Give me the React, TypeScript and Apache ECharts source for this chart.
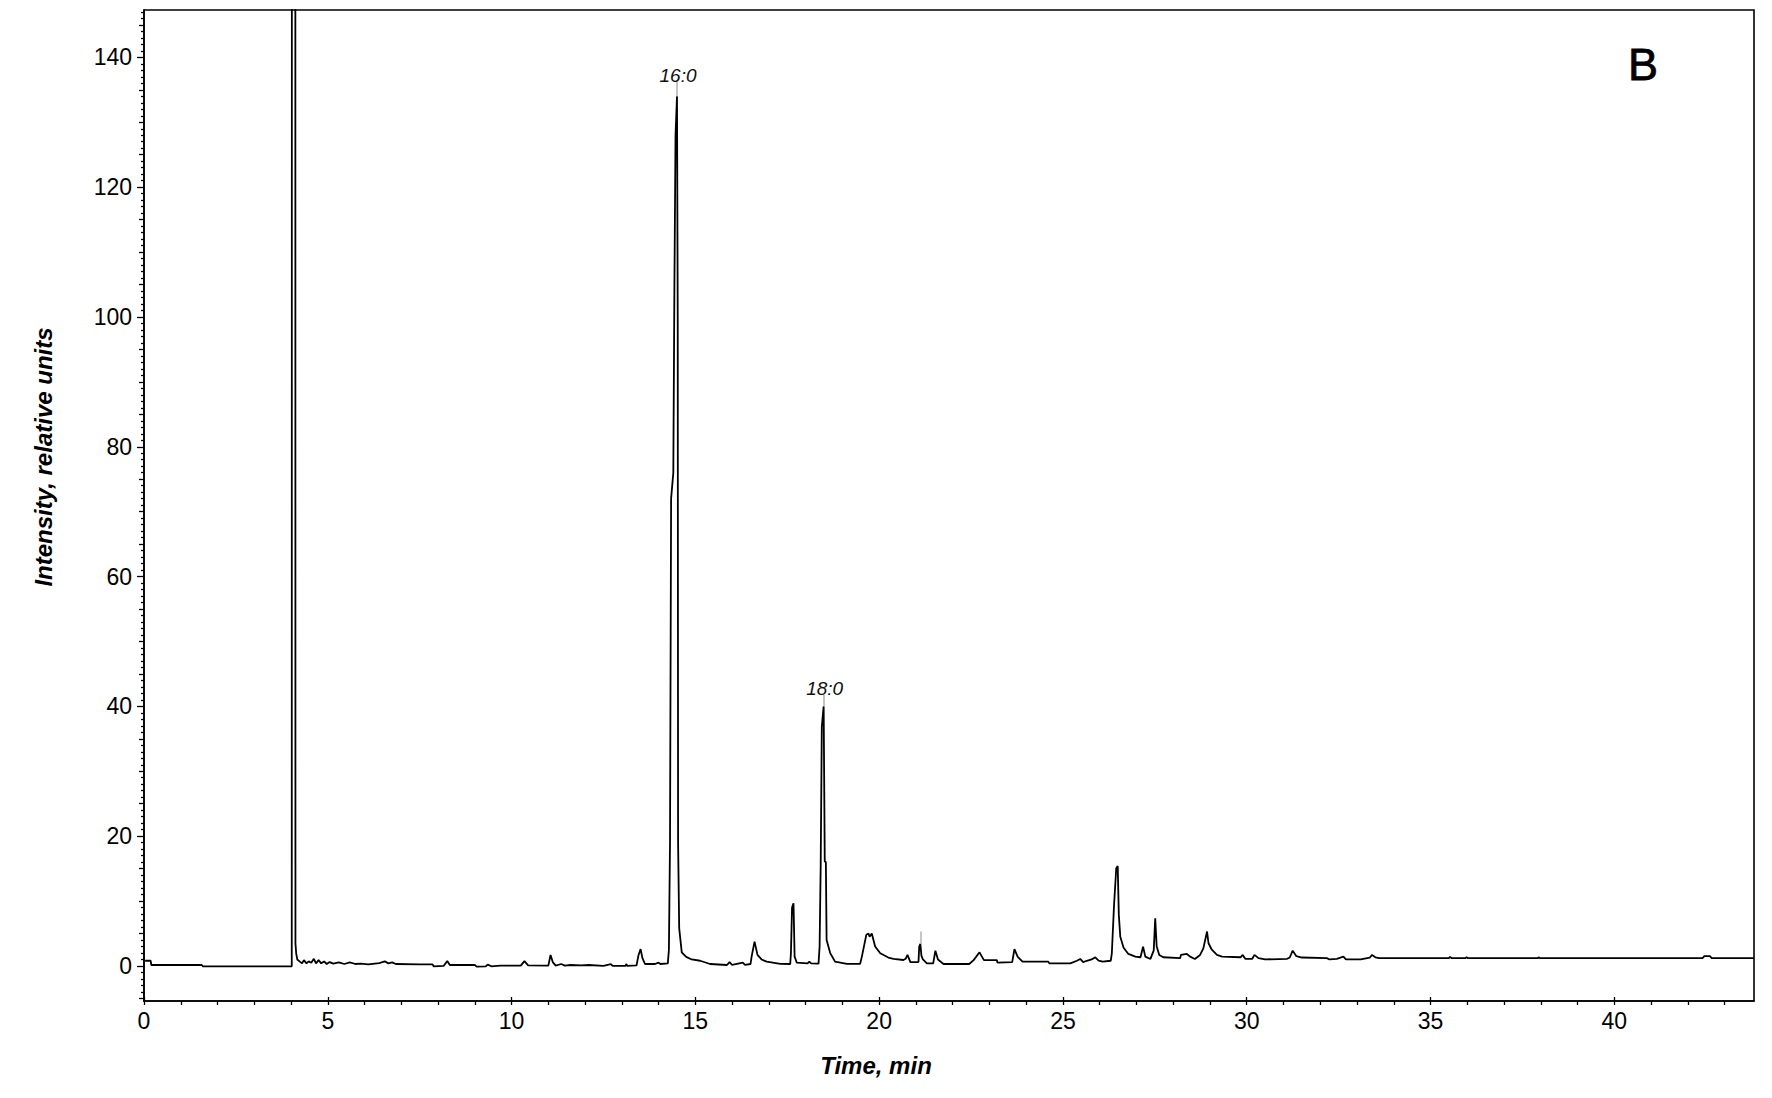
import React, { useEffect, useRef } from "react";
import * as echarts from "echarts";

// Retention time (min)
const times = [
  0.03, 0.18, 0.2, 1.57, 1.6, 4.02, 4.03, 4.11, 4.12, 4.14, 4.17, 4.24, 4.3, 4.35, 4.42, 4.48, 4.55, 4.62, 4.68, 4.75,
  4.82, 4.9, 4.97, 5.05, 5.15, 5.3, 5.45, 5.6, 5.75, 5.9, 6.1, 6.4, 6.55, 6.65, 6.75, 6.85, 7.5, 7.85, 7.88, 8.15,
  8.25, 8.32, 9.0, 9.05, 9.3, 9.35, 9.45, 9.7, 10.25, 10.35, 10.45, 11.0, 11.06, 11.12, 11.2, 11.35, 11.45, 11.6, 11.9, 12.1,
  12.5, 12.7, 12.75, 13.1, 13.12, 13.15, 13.4, 13.45, 13.51, 13.56, 13.63, 13.9, 14.0, 14.05, 14.25, 14.28, 14.31, 14.34, 14.4, 14.43,
  14.46, 14.5, 14.52, 14.53, 14.56, 14.63, 14.75, 14.9, 15.13, 15.4, 15.86, 15.93, 16.0, 16.29, 16.35, 16.5, 16.53, 16.61, 16.69, 16.8,
  16.94, 17.31, 17.58, 17.6, 17.63, 17.67, 17.7, 17.76, 18.05, 18.1, 18.15, 18.35, 18.38, 18.41, 18.44, 18.49, 18.52, 18.55, 18.57, 18.67,
  18.8, 19.12, 19.48, 19.53, 19.65, 19.71, 19.74, 19.8, 19.89, 20.03, 20.25, 20.39, 20.66, 20.72, 20.77, 20.85, 21.07, 21.09, 21.12, 21.15,
  21.19, 21.3, 21.47, 21.53, 21.6, 21.75, 22.45, 22.57, 22.73, 22.85, 23.2, 23.22, 23.62, 23.68, 23.77, 23.9, 24.6, 24.63, 25.2, 25.38,
  25.47, 25.55, 25.65, 25.78, 25.88, 25.97, 26.08, 26.3, 26.33, 26.39, 26.45, 26.49, 26.52, 26.56, 26.65, 26.78, 26.97, 27.11, 27.18, 27.24,
  27.38, 27.47, 27.51, 27.55, 27.62, 27.73, 28.19, 28.21, 28.37, 28.46, 28.59, 28.73, 28.82, 28.92, 28.96, 29.05, 29.19, 29.33, 29.83, 29.89,
  29.96, 30.15, 30.21, 30.32, 30.5, 31.1, 31.17, 31.25, 31.35, 31.5, 32.18, 32.25, 32.45, 32.63, 32.7, 33.1, 33.35, 33.41, 33.5, 33.6,
  35.5, 35.53, 35.58, 35.95, 35.98, 36.02, 37.92, 37.94, 37.97, 42.4, 42.45, 42.6, 42.65, 43.8,
];

// Detector response (relative units); the solvent front at ~4 min runs off scale
const intensity = [
  0.8, 0.8, 0.15, 0.15, -0.05, -0.05, 600, 600, 3.5, 1.95, 1.0, 0.67, 0.4, 0.9, 0.4, 0.7, 0.5, 1.1, 0.4, 0.9,
  0.4, 0.7, 0.3, 0.6, 0.35, 0.55, 0.3, 0.55, 0.3, 0.35, 0.25, 0.45, 0.7, 0.4, 0.55, 0.3, 0.25, 0.25, -0.05, 0.0,
  0.75, 0.15, 0.15, -0.1, -0.05, 0.2, -0.05, 0.05, 0.05, 0.75, 0.1, 0.05, 1.7, 0.6, 0.05, 0.3, 0.05, 0.15, 0.1, 0.15,
  0.0, 0.3, 0.0, 0.0, 0.3, 0.0, 0.1, 1.6, 2.6, 1.2, 0.3, 0.3, 0.5, 0.3, 0.4, 2.5, 19, 72, 76, 105,
  128, 134, 100, 19, 5.8, 2.1, 1.4, 1.0, 0.8, 0.3, 0.15, 0.6, 0.15, 0.5, 0.15, 0.3, 1.44, 3.75, 1.7, 1.0,
  0.67, 0.31, 0.3, 2.0, 9.0, 9.66, 1.44, 0.5, 0.4, 0.65, 0.4, 0.35, 3.0, 15.8, 36.9, 40, 16.1, 16, 4.0, 1.95,
  0.67, 0.31, 0.31, 1.44, 4.8, 5.0, 4.5, 5.0, 3.0, 1.95, 1.3, 1.1, 0.92, 1.1, 1.7, 0.6, 0.6, 3.0, 3.4, 1.6,
  1.0, 0.4, 0.4, 2.36, 1.0, 0.3, 0.3, 0.9, 2.1, 0.9, 0.9, 0.5, 0.6, 2.6, 1.4, 0.67, 0.67, 0.4, 0.4, 0.8,
  1.08, 0.6, 0.8, 1.0, 1.34, 0.82, 0.67, 0.8, 1.95, 9.4, 15.06, 15.4, 7.86, 4.5, 2.8, 1.85, 1.44, 1.34, 2.98, 1.44,
  1.08, 2.4, 7.35, 3.0, 1.7, 1.34, 1.2, 1.7, 1.85, 1.44, 1.08, 1.7, 2.7, 5.3, 3.5, 2.5, 1.7, 1.44, 1.34, 1.7,
  1.1, 1.1, 1.7, 1.2, 1.0, 1.1, 1.3, 2.36, 1.5, 1.3, 1.2, 1.0, 1.1, 1.44, 1.0, 1.0, 1.3, 1.7, 1.34, 1.2,
  1.2, 1.4, 1.2, 1.2, 1.35, 1.2, 1.2, 1.35, 1.2, 1.2, 1.5, 1.5, 1.2, 1.2,
];

// Annotated peaks
const peakNames = ["16:0", "18:0"];
const peakTimes = [14.5, 18.49];
const peakTops = [136.3, 41.8];

// Grey marker stems above peak apexes
const stemTimes = [14.5, 18.49, 21.12];
const stemFrom = [134, 40, 3.4];
const stemTo = [136.3, 41.8, 5.3];

// Axes
const xMin = 0;
const xMax = 43.8;
const yMin = -5.4;
const yMax = 147.3;
const xLabelValues = [0, 5, 10, 15, 20, 25, 30, 35, 40];
const yLabelValues = [0, 20, 40, 60, 80, 100, 120, 140];
const panelLetter = "B";
const xTitle = "Time, min";
const yTitle = "Intensity, relative units";

const FONT = "'Liberation Sans', Arial, Helvetica, sans-serif";

export default function App() {
  const ref = useRef<HTMLDivElement>(null);

  useEffect(() => {
    if (!ref.current) return;
    const chart = echarts.init(ref.current, undefined, { renderer: "svg" });

    const xMinorTicks: number[] = [];
    for (let i = 0; i <= 43; i++) xMinorTicks.push(i);
    const yMinorTicks: number[] = [];
    const yMidTicks: number[] = [];
    for (let i = -5; i <= 147; i++) {
      if (i % 5 !== 0) yMinorTicks.push(i);
      else if (i % 20 !== 0) yMidTicks.push(i);
    }

    const axisBlack = { color: "#000", width: 1.6 };
    const tickStyle = { color: "#000", width: 1.3 };

    const option: any = {
      animation: false,
      backgroundColor: "#fff",
      grid: {
        left: 144,
        right: 18,
        top: 10,
        bottom: 97,
        show: true,
        borderColor: "#000",
        borderWidth: 1.6,
        backgroundColor: "transparent",
      },
      xAxis: [
        {
          type: "value",
          min: xMin,
          max: xMax,
          position: "bottom",
          axisLine: { show: true, onZero: false, lineStyle: axisBlack },
          axisTick: { show: true, customValues: xMinorTicks, length: 4, lineStyle: tickStyle },
          axisLabel: {
            show: true,
            customValues: xLabelValues,
            fontSize: 23,
            color: "#000",
            margin: 8,
            fontFamily: FONT,
          },
          splitLine: { show: false },
        },
        {
          type: "value",
          min: xMin,
          max: xMax,
          position: "bottom",
          axisLine: { show: false, onZero: false },
          axisTick: { show: true, inside: true, customValues: xLabelValues, length: 4, lineStyle: tickStyle },
          axisLabel: { show: false },
          splitLine: { show: false },
        },
      ],
      yAxis: [
        {
          type: "value",
          min: yMin,
          max: yMax,
          position: "left",
          axisLine: { show: true, onZero: false, lineStyle: axisBlack },
          axisTick: { show: true, customValues: yLabelValues, length: 7, lineStyle: tickStyle },
          axisLabel: {
            show: true,
            customValues: yLabelValues,
            fontSize: 23,
            color: "#000",
            margin: 12,
            fontFamily: FONT,
          },
          splitLine: { show: false },
        },
        {
          type: "value",
          min: yMin,
          max: yMax,
          position: "left",
          axisLine: { show: false, onZero: false },
          axisTick: { show: true, customValues: yMidTicks, length: 5, lineStyle: tickStyle },
          axisLabel: { show: false },
          splitLine: { show: false },
        },
        {
          type: "value",
          min: yMin,
          max: yMax,
          position: "left",
          axisLine: { show: false, onZero: false },
          axisTick: { show: true, customValues: yMinorTicks, length: 3, lineStyle: tickStyle },
          axisLabel: { show: false },
          splitLine: { show: false },
        },
      ],
      series: [
        {
          type: "line",
          xAxisIndex: 0,
          yAxisIndex: 0,
          data: times.map((t, i) => [t, intensity[i]]),
          showSymbol: false,
          symbol: "none",
          clip: true,
          silent: true,
          lineStyle: { color: "#000", width: 1.8 },
          markLine: {
            silent: true,
            symbol: "none",
            label: { show: false },
            lineStyle: { color: "#b0b0b0", width: 1.5, type: "solid" },
            data: stemTimes.map((t, i) => [
              { coord: [t, stemFrom[i]] },
              { coord: [t, stemTo[i]] },
            ]),
          },
          markPoint: {
            silent: true,
            symbol: "circle",
            symbolSize: 1,
            itemStyle: { color: "transparent" },
            data: peakNames.map((name, i) => ({
              coord: [peakTimes[i], peakTops[i]],
              label: {
                show: true,
                formatter: name,
                position: "top",
                distance: 0,
                offset: [1, 4],
                fontStyle: "italic",
                fontSize: 19,
                color: "#111",
                fontFamily: FONT,
              },
            })),
          },
        },
      ],
      graphic: [
        {
          type: "text",
          x: 876,
          y: 1065,
          style: {
            text: xTitle,
            fontFamily: FONT,
            fontSize: 24,
            fontStyle: "italic",
            fontWeight: "bold",
            fill: "#000",
            align: "center",
            verticalAlign: "middle",
            textAlign: "center",
            textVerticalAlign: "middle",
          },
        },
        {
          type: "text",
          x: 43,
          y: 457,
          rotation: Math.PI / 2,
          style: {
            text: yTitle,
            fontFamily: FONT,
            fontSize: 24,
            fontStyle: "italic",
            fontWeight: "bold",
            fill: "#000",
            align: "center",
            verticalAlign: "middle",
            textAlign: "center",
            textVerticalAlign: "middle",
          },
        },
        {
          type: "text",
          x: 1643,
          y: 64,
          style: {
            text: panelLetter,
            fontFamily: FONT,
            fontSize: 45,
            fontWeight: "normal",
            fill: "#000",
            stroke: "#000",
            lineWidth: 0.8,
            align: "center",
            verticalAlign: "middle",
            textAlign: "center",
            textVerticalAlign: "middle",
          },
        },
      ],
    };

    chart.setOption(option);
    return () => {
      chart.dispose();
    };
  }, []);

  return (
    <div
      ref={ref}
      style={{ position: "fixed", left: 0, top: 0, width: 1772, height: 1098, background: "#fff" }}
    />
  );
}
